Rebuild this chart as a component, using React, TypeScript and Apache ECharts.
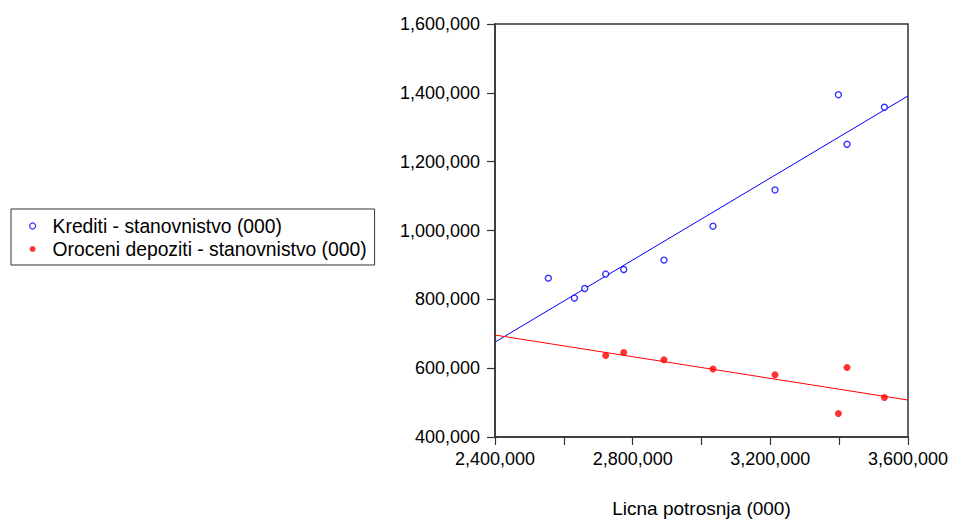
import React, { useEffect, useRef } from "react";
import * as echarts from "echarts";

// Licna potrosnja (000) — x values
const licnaPotrosnja = [
  2555000, 2630700, 2660600, 2721600, 2773900, 2891000, 3033400, 3213600, 3397800, 3422800, 3531400,
];
// Krediti - stanovnistvo (000)
const krediti = [
  861600, 803600, 831500, 873300, 886600, 913900, 1012600, 1118000, 1394700, 1250700, 1358100,
];
// Oroceni depoziti - stanovnistvo (000) (missing for first three periods)
const depoziti = [
  null, null, null, 636900, 645600, 624400, 597400, 580900, 468500, 602000, 515000,
];
// Fitted regression lines (endpoints)
const trendX = [2400000, 3600000];
const kreditiTrend = [675800, 1391000];
const depozitiTrend = [696200, 507400];

const seriesNames = ["Krediti - stanovnistvo (000)", "Oroceni depoziti - stanovnistvo (000)"];
const xAxisTitle = "Licna potrosnja (000)";

const FONT = "'Liberation Sans', Arial, Helvetica, sans-serif";

const fmt = (v: number) => v.toLocaleString("en-US");

export default function App() {
  const ref = useRef<HTMLDivElement>(null);
  useEffect(() => {
    if (!ref.current) return;
    const chart = echarts.init(ref.current, undefined, { renderer: "svg" });
    const kreditiPts = licnaPotrosnja.map((x, i) => [x, krediti[i]]);
    const depozitiPts = licnaPotrosnja
      .map((x, i) => [x, depoziti[i]])
      .filter((p) => p[1] !== null);
    chart.setOption({
      animation: false,
      backgroundColor: "#ffffff",
      textStyle: { fontFamily: FONT },
      grid: {
        left: 495,
        right: 50,
        top: 24,
        bottom: 87,
        show: true,
        borderColor: "#333",
        borderWidth: 1.5,
        backgroundColor: "transparent",
      },
      legend: {
        orient: "vertical",
        left: 11,
        top: 209,
        padding: [7, 8, 6, 18],
        itemGap: 3,
        itemWidth: 30,
        itemHeight: 6,
        borderColor: "#333",
        borderWidth: 1,
        backgroundColor: "#fff",
        textStyle: { fontFamily: FONT, fontSize: 19.3, color: "#000", lineHeight: 20 },
        data: [
          {
            name: seriesNames[0],
            icon: "circle",
            itemStyle: { color: "#fff", borderColor: "#0000ff", borderWidth: 1.2 },
          },
          {
            name: seriesNames[1],
            icon: "circle",
            itemStyle: { color: "#ff0000", borderWidth: 0 },
          },
        ],
      },
      xAxis: {
        type: "value",
        min: 2400000,
        max: 3600000,
        interval: 200000,
        name: xAxisTitle,
        nameLocation: "middle",
        nameGap: 62,
        nameTextStyle: { fontFamily: FONT, fontSize: 19, color: "#000" },
        axisLine: { show: true, onZero: false, lineStyle: { color: "#333", width: 1.5 } },
        axisTick: { show: true, length: 8, inside: false, lineStyle: { color: "#333", width: 1.2 } },
        axisLabel: {
          margin: 13,
          fontFamily: FONT,
          fontSize: 18,
          color: "#000",
          formatter: (v: number) => (v % 400000 === 0 ? fmt(v) : ""),
        },
        splitLine: { show: false },
      },
      yAxis: {
        type: "value",
        min: 400000,
        max: 1600000,
        interval: 200000,
        axisLine: { show: true, onZero: false, lineStyle: { color: "#333", width: 1.5 } },
        axisTick: { show: true, length: 8, inside: false, lineStyle: { color: "#333", width: 1.2 } },
        axisLabel: {
          margin: 15,
          fontFamily: FONT,
          fontSize: 18,
          color: "#000",
          formatter: (v: number) => fmt(v),
        },
        splitLine: { show: false },
      },
      series: [
        {
          name: "trend-krediti",
          type: "line",
          data: trendX.map((x, i) => [x, kreditiTrend[i]]),
          showSymbol: false,
          symbol: "none",
          lineStyle: { color: "#0000ff", width: 1 },
          silent: true,
          z: 1,
        },
        {
          name: "trend-depoziti",
          type: "line",
          data: trendX.map((x, i) => [x, depozitiTrend[i]]),
          showSymbol: false,
          symbol: "none",
          lineStyle: { color: "#ff0000", width: 1 },
          silent: true,
          z: 1,
        },
        {
          name: seriesNames[0],
          type: "scatter",
          data: kreditiPts,
          symbol: "circle",
          symbolSize: 6,
          itemStyle: { color: "#ffffff", borderColor: "#0000ff", borderWidth: 1.4 },
          z: 3,
        },
        {
          name: seriesNames[1],
          type: "scatter",
          data: depozitiPts,
          symbol: "circle",
          symbolSize: 7,
          itemStyle: { color: "#ff0000" },
          z: 3,
        },
      ],
    });
    return () => chart.dispose();
  }, []);
  return <div ref={ref} style={{ width: 958, height: 524, position: "fixed", left: 0, top: 0 }} />;
}
